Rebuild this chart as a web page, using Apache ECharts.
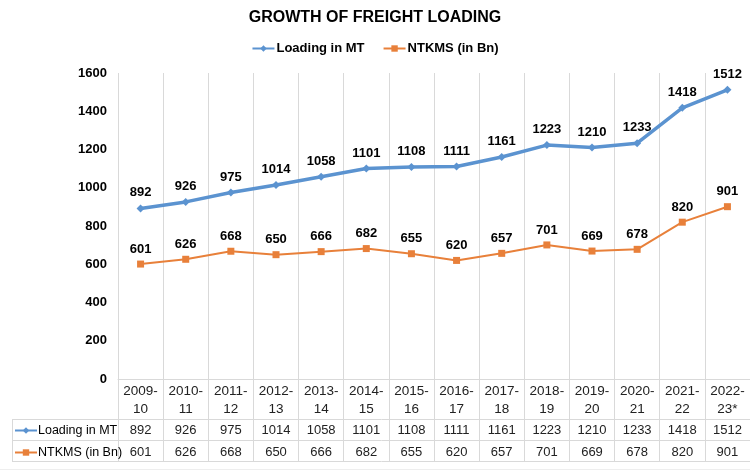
<!DOCTYPE html>
<html>
<head>
<meta charset="utf-8">
<script src="https://cdn.jsdelivr.net/npm/echarts@6/dist/echarts.min.js"></script>
<style>
  html, body { margin: 0; padding: 0; background: #fff; }
  #chart { width: 750px; height: 470px; }
</style>
</head>
<body>
<div id="chart"></div>
<script>
// data
const categories = ['2009-10', '2010-11', '2011-12', '2012-13', '2013-14', '2014-15', '2015-16',
  '2016-17', '2017-18', '2018-19', '2019-20', '2020-21', '2021-22', '2022-23*']
const loading = [892, 926, 975, 1014, 1058, 1101, 1108, 1111, 1161, 1223, 1210, 1233, 1418, 1512]
const ntkms = [601, 626, 668, 650, 666, 682, 655, 620, 657, 701, 669, 678, 820, 901]
const seriesNames = ['Loading in MT', 'NTKMS (in Bn)']

const FONT = "'Liberation Sans', Arial, sans-serif"
const BLUE = '#5B93D0'
const ORANGE = '#E8803A'
const GRID = '#d9d9d9'

const myChart = echarts.init(document.getElementById('chart'))

// 表格的横线（布局用）
const tableLine = (y) => ({
  type: 'line',
  shape: { x1: 12, y1: y, x2: 751, y2: y },
  style: { stroke: GRID, lineWidth: 1 },
  silent: true,
})

const valueLabel = { show: true, position: 'top', fontSize: 13, fontWeight: 'bold', color: '#000', fontFamily: FONT }

myChart.setOption({
  animation: false,
  textStyle: { fontFamily: FONT },
  title: {
    text: 'GROWTH OF FREIGHT LOADING',
    left: 'center',
    top: 5,
    textStyle: { fontSize: 16, fontWeight: 'bold', color: '#000', fontFamily: FONT },
  },
  legend: [
    {
      data: seriesNames,
      top: 37,
      left: 'center',
      itemGap: 18,
      itemWidth: 22,
      itemHeight: 8,
      textStyle: { fontSize: 13, fontWeight: 'bold', color: '#000', fontFamily: FONT, padding: [0, 0, 0, -3] },
    },
    {
      data: seriesNames,
      orient: 'vertical',
      left: 9,
      top: 419,
      itemGap: 9,
      itemWidth: 22,
      itemHeight: 8,
      selectedMode: false,
      textStyle: { fontSize: 12.5, color: '#000', fontFamily: FONT, padding: [0, 0, 0, -4] },
    },
  ],
  grid: { left: 118, top: 73, width: 633, height: 306, containLabel: false },
  xAxis: [
    {
      type: 'category',
      data: categories,
      boundaryGap: true,
      axisLine: { lineStyle: { color: GRID } },
      axisTick: { show: true, interval: 0, length: 83, lineStyle: { color: GRID } },
      splitLine: { show: true, interval: 0, lineStyle: { color: GRID } },
      axisLabel: {
        interval: 0,
        margin: 3,
        fontSize: 13.5,
        lineHeight: 18,
        color: '#222',
        fontFamily: FONT,
        formatter: (v) => v.replace('-', '-\n'),
      },
    },
    {
      type: 'category',
      data: categories,
      position: 'bottom',
      offset: 41,
      axisLine: { show: false },
      axisTick: { show: false },
      axisLabel: {
        interval: 0,
        margin: 3,
        fontSize: 13,
        lineHeight: 14,
        color: '#222',
        fontFamily: FONT,
        formatter: (v, i) => String(loading[i]),
      },
    },
    {
      type: 'category',
      data: categories,
      position: 'bottom',
      offset: 62,
      axisLine: { show: false },
      axisTick: { show: false },
      axisLabel: {
        interval: 0,
        margin: 4,
        fontSize: 13,
        lineHeight: 14,
        color: '#222',
        fontFamily: FONT,
        formatter: (v, i) => String(ntkms[i]),
      },
    },
  ],
  yAxis: {
    type: 'value',
    min: 0,
    max: 1600,
    interval: 200,
    axisLine: { show: false },
    axisTick: { show: false },
    splitLine: { show: false },
    axisLabel: {
      margin: 11,
      fontSize: 13,
      fontWeight: 'bold',
      color: '#000',
      fontFamily: FONT,
      formatter: (v) => String(v),
    },
  },
  graphic: [
    tableLine(419.5),
    tableLine(440.5),
    tableLine(461.5),
    {
      type: 'line',
      shape: { x1: 12.5, y1: 419.5, x2: 12.5, y2: 461.5 },
      style: { stroke: GRID, lineWidth: 1 },
      silent: true,
    },
    {
      type: 'line',
      shape: { x1: 0, y1: 469.5, x2: 750, y2: 469.5 },
      style: { stroke: '#eeeeee', lineWidth: 1 },
      silent: true,
    },
  ],
  series: [
    {
      name: seriesNames[0],
      type: 'line',
      data: loading,
      symbol: 'diamond',
      symbolSize: 8,
      itemStyle: { color: BLUE },
      lineStyle: { color: BLUE, width: 3.5 },
      label: valueLabel,
    },
    {
      name: seriesNames[1],
      type: 'line',
      data: ntkms,
      symbol: 'rect',
      symbolSize: 7,
      itemStyle: { color: ORANGE },
      lineStyle: { color: ORANGE, width: 2 },
      label: valueLabel,
    },
  ],
})
</script>
</body>
</html>
